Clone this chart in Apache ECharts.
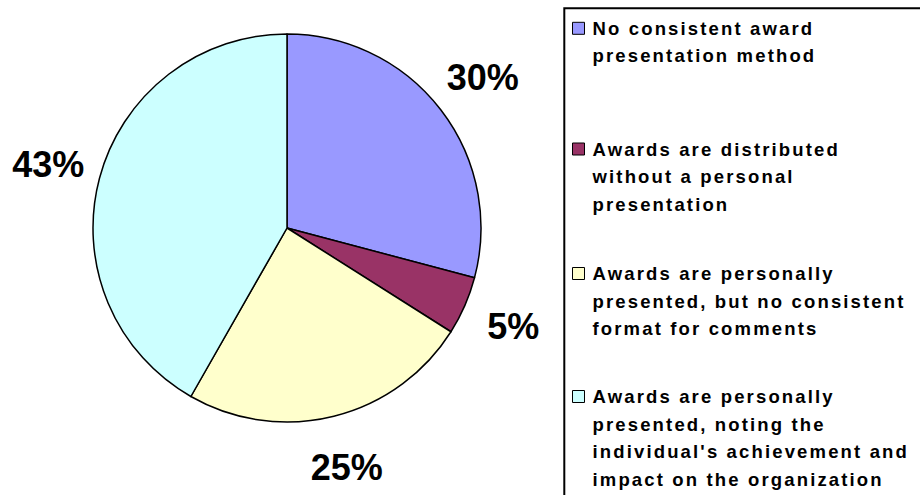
<!DOCTYPE html>
<html>
<head>
<meta charset="utf-8">
<script src="https://cdn.jsdelivr.net/npm/echarts@6/dist/echarts.min.js"></script>
<style>
  html, body { margin: 0; padding: 0; background: #fff; }
  #chart { width: 920px; height: 495px; }
  #chart svg text[style*="18.5px"], #chart svg text[font-size="18.5px"], #chart svg text[font-size="18.5"] { letter-spacing: 2.15px; }
</style>
</head>
<body>
<div id="chart"></div>
<script>
const categories = [
  'No consistent award\npresentation method',
  'Awards are distributed\nwithout a personal\npresentation',
  'Awards are personally\npresented, but no consistent\nformat for comments',
  "Awards are personally\npresented, noting the\nindividual's achievement and\nimpact on the organization"
];
const values = [30, 5, 25, 43];
const colors = ['#9999FF', '#993366', '#FFFFCC', '#CCFFFF'];

const LINE_H = 27.5;
const legendIconCenters = [28.3, 149, 273.5, 396.5];
const H = 495;

const legends = categories.map(function (name, i) {
  const n = name.split('\n').length;
  return {
    orient: 'vertical',
    left: 572,
    bottom: H - (legendIconCenters[i] + (2 * n - 1) * LINE_H / 2),
    padding: 0,
    itemWidth: 12,
    itemHeight: 12,
    icon: 'rect',
    selectedMode: false,
    data: [{ name: name, itemStyle: { color: colors[i], borderColor: '#000', borderWidth: 1 } }],
    itemStyle: { borderColor: '#000', borderWidth: 1 },
    // leading empty lines keep the first text line level with the icon
    formatter: function (nm) { return '\n'.repeat(n - 1) + nm; },
    textStyle: {
      fontFamily: 'Liberation Sans, Arial, sans-serif',
      fontSize: 18.5,
      fontWeight: 'bold',
      color: '#000',
      lineHeight: LINE_H,
      padding: [0, 0, 0, 3]
    }
  };
});

const pieData = categories.map(function (name, i) {
  return { name: name, value: values[i], itemStyle: { color: colors[i] } };
});
const labelData = categories.map(function (name, i) {
  return { name: name, value: values[i] };
});

const chart = echarts.init(document.getElementById('chart'), null, { renderer: 'svg', width: 920, height: 495 });
chart.setOption({
  animation: false,
  backgroundColor: '#fff',
  legend: legends,
  graphic: [{
    type: 'rect',
    shape: { x: 564.3, y: 8.3, width: 420, height: 520 },
    style: { fill: 'none', stroke: '#000', lineWidth: 2 },
    silent: true,
    z: 10
  }],
  series: [
    {
      type: 'pie',
      center: [287, 228],
      radius: [0, 194],
      startAngle: 90,
      clockwise: true,
      label: { show: false },
      labelLine: { show: false },
      emphasis: { disabled: true },
      itemStyle: { borderColor: '#000', borderWidth: 1.5 },
      data: pieData
    },
    {
      type: 'pie',
      center: [287, 228],
      radius: [194, 294],
      startAngle: 90,
      clockwise: true,
      silent: true,
      emphasis: { disabled: true },
      itemStyle: { color: 'rgba(0,0,0,0)', borderWidth: 0 },
      label: {
        show: true,
        position: 'inside',
        formatter: '{c}%',
        fontFamily: 'Arial, Liberation Sans, sans-serif',
        fontSize: 36,
        fontWeight: 'bold',
        color: '#000'
      },
      labelLine: { show: false },
      data: labelData
    }
  ]
});
</script>
</body>
</html>
